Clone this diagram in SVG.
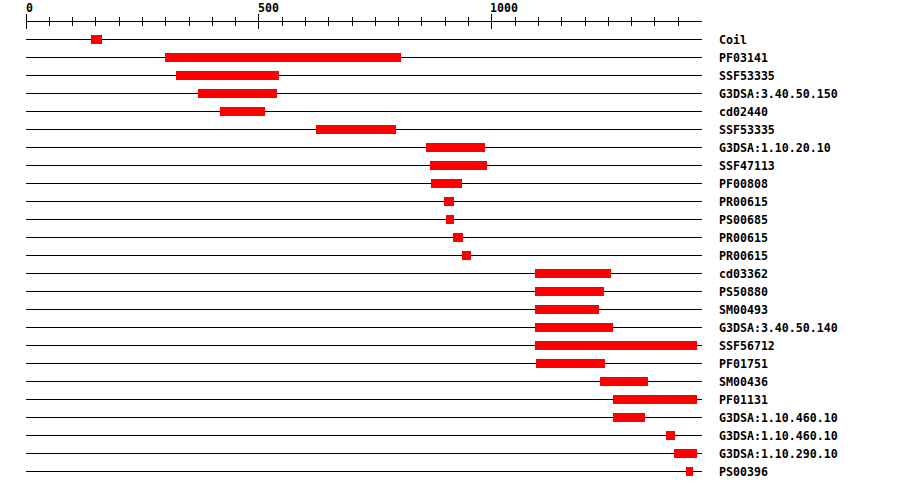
<svg xmlns="http://www.w3.org/2000/svg" width="900" height="490" viewBox="0 0 900 490">
<style>
.t{font-family:"DejaVu Sans Mono","Liberation Mono",monospace;font-weight:bold;font-size:11.6px;fill:#000}
.ax{stroke:#000;stroke-width:1;fill:none;shape-rendering:crispEdges}
.ln{stroke:#000;stroke-width:1;shape-rendering:crispEdges}
.bar{fill:#ff0000;shape-rendering:crispEdges}
</style>
<rect width="900" height="490" fill="#fff"/>
<g id="ruler">
<line class="ax" x1="26" y1="21.5" x2="702" y2="21.5"/>
<path class="ax" d="M26.5 14V29M258.5 14V29M491.5 14V29"/>
<path class="ax" d="M49.5 17V26M72.5 17V26M95.5 17V26M119.5 17V26M142.5 17V26M165.5 17V26M189.5 17V26M212.5 17V26M235.5 17V26M282.5 17V26M305.5 17V26M328.5 17V26M352.5 17V26M375.5 17V26M398.5 17V26M421.5 17V26M445.5 17V26M468.5 17V26M515.5 17V26M538.5 17V26M561.5 17V26M585.5 17V26M608.5 17V26M631.5 17V26M654.5 17V26M678.5 17V26"/>
<text class="t" x="26" y="12">0</text>
<text class="t" x="258" y="12">500</text>
<text class="t" x="490" y="12">1000</text>
</g>
<g id="connectors">
<line class="ln" x1="26" y1="39.5" x2="702" y2="39.5"/>
<line class="ln" x1="26" y1="57.5" x2="702" y2="57.5"/>
<line class="ln" x1="26" y1="75.5" x2="702" y2="75.5"/>
<line class="ln" x1="26" y1="93.5" x2="702" y2="93.5"/>
<line class="ln" x1="26" y1="111.5" x2="702" y2="111.5"/>
<line class="ln" x1="26" y1="129.5" x2="702" y2="129.5"/>
<line class="ln" x1="26" y1="147.5" x2="702" y2="147.5"/>
<line class="ln" x1="26" y1="165.5" x2="702" y2="165.5"/>
<line class="ln" x1="26" y1="183.5" x2="702" y2="183.5"/>
<line class="ln" x1="26" y1="201.5" x2="702" y2="201.5"/>
<line class="ln" x1="26" y1="219.5" x2="702" y2="219.5"/>
<line class="ln" x1="26" y1="237.5" x2="702" y2="237.5"/>
<line class="ln" x1="26" y1="255.5" x2="702" y2="255.5"/>
<line class="ln" x1="26" y1="273.5" x2="702" y2="273.5"/>
<line class="ln" x1="26" y1="291.5" x2="702" y2="291.5"/>
<line class="ln" x1="26" y1="309.5" x2="702" y2="309.5"/>
<line class="ln" x1="26" y1="327.5" x2="702" y2="327.5"/>
<line class="ln" x1="26" y1="345.5" x2="702" y2="345.5"/>
<line class="ln" x1="26" y1="363.5" x2="702" y2="363.5"/>
<line class="ln" x1="26" y1="381.5" x2="702" y2="381.5"/>
<line class="ln" x1="26" y1="399.5" x2="702" y2="399.5"/>
<line class="ln" x1="26" y1="417.5" x2="702" y2="417.5"/>
<line class="ln" x1="26" y1="435.5" x2="702" y2="435.5"/>
<line class="ln" x1="26" y1="453.5" x2="702" y2="453.5"/>
<line class="ln" x1="26" y1="471.5" x2="702" y2="471.5"/>
</g>
<g id="r1"><rect class="bar" x="91" y="35" width="11" height="9"/><text class="t" x="719" y="43.5">Coil</text></g>
<g id="r2"><rect class="bar" x="165" y="53" width="236" height="9"/><text class="t" x="719" y="61.5">PF03141</text></g>
<g id="r3"><rect class="bar" x="176" y="71" width="103" height="9"/><text class="t" x="719" y="79.5">SSF53335</text></g>
<g id="r4"><rect class="bar" x="198" y="89" width="79" height="9"/><text class="t" x="719" y="97.5">G3DSA:3.40.50.150</text></g>
<g id="r5"><rect class="bar" x="220" y="107" width="45" height="9"/><text class="t" x="719" y="115.5">cd02440</text></g>
<g id="r6"><rect class="bar" x="316" y="125" width="80" height="9"/><text class="t" x="719" y="133.5">SSF53335</text></g>
<g id="r7"><rect class="bar" x="426" y="143" width="59" height="9"/><text class="t" x="719" y="151.5">G3DSA:1.10.20.10</text></g>
<g id="r8"><rect class="bar" x="430" y="161" width="57" height="9"/><text class="t" x="719" y="169.5">SSF47113</text></g>
<g id="r9"><rect class="bar" x="431" y="179" width="31" height="9"/><text class="t" x="719" y="187.5">PF00808</text></g>
<g id="r10"><rect class="bar" x="444" y="197" width="10" height="9"/><text class="t" x="719" y="205.5">PR00615</text></g>
<g id="r11"><rect class="bar" x="446" y="215" width="8" height="9"/><text class="t" x="719" y="223.5">PS00685</text></g>
<g id="r12"><rect class="bar" x="453" y="233" width="10" height="9"/><text class="t" x="719" y="241.5">PR00615</text></g>
<g id="r13"><rect class="bar" x="462" y="251" width="9" height="9"/><text class="t" x="719" y="259.5">PR00615</text></g>
<g id="r14"><rect class="bar" x="535" y="269" width="76" height="9"/><text class="t" x="719" y="277.5">cd03362</text></g>
<g id="r15"><rect class="bar" x="535" y="287" width="69" height="9"/><text class="t" x="719" y="295.5">PS50880</text></g>
<g id="r16"><rect class="bar" x="535" y="305" width="64" height="9"/><text class="t" x="719" y="313.5">SM00493</text></g>
<g id="r17"><rect class="bar" x="535" y="323" width="78" height="9"/><text class="t" x="719" y="331.5">G3DSA:3.40.50.140</text></g>
<g id="r18"><rect class="bar" x="535" y="341" width="162" height="9"/><text class="t" x="719" y="349.5">SSF56712</text></g>
<g id="r19"><rect class="bar" x="536" y="359" width="69" height="9"/><text class="t" x="719" y="367.5">PF01751</text></g>
<g id="r20"><rect class="bar" x="600" y="377" width="48" height="9"/><text class="t" x="719" y="385.5">SM00436</text></g>
<g id="r21"><rect class="bar" x="613" y="395" width="84" height="9"/><text class="t" x="719" y="403.5">PF01131</text></g>
<g id="r22"><rect class="bar" x="613" y="413" width="32" height="9"/><text class="t" x="719" y="421.5">G3DSA:1.10.460.10</text></g>
<g id="r23"><rect class="bar" x="666" y="431" width="9" height="9"/><text class="t" x="719" y="439.5">G3DSA:1.10.460.10</text></g>
<g id="r24"><rect class="bar" x="674" y="449" width="23" height="9"/><text class="t" x="719" y="457.5">G3DSA:1.10.290.10</text></g>
<g id="r25"><rect class="bar" x="686" y="467" width="7" height="9"/><text class="t" x="719" y="475.5">PS00396</text></g>
</svg>
